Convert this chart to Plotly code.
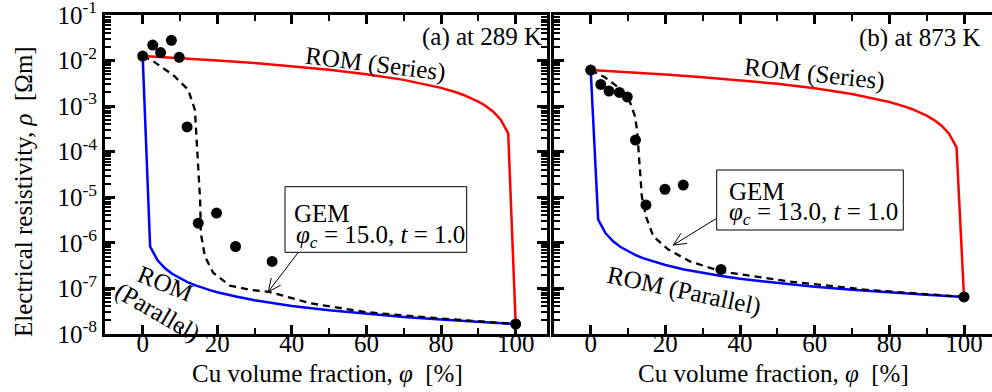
import math
import plotly.graph_objects as go

# ---------------- data ----------------
# (a) 289 K
phi_a_exp = [0, 2.7, 4.8, 7.7, 9.8, 11.9, 14.9, 19.8, 24.9, 34.7, 100]
rho_a_exp = [1.26e-2, 2.2e-2, 1.5e-2, 2.8e-2, 1.18e-2, 3.5e-4, 2.7e-6, 4.5e-6, 8.3e-7, 3.9e-7, 1.65e-8]

phi_a_ser = [0, 10, 20, 30, 40, 50, 60, 70, 80, 82, 84, 86, 88, 90, 92, 94, 96, 98, 100]
rho_a_ser = [1.26e-2, 1.134e-2, 1.008e-2, 8.82e-3, 7.56e-3, 6.3e-3, 5.04e-3, 3.78e-3, 2.52e-3,
             2.268e-3, 2.016e-3, 1.764e-3, 1.512e-3, 1.26e-3, 1.008e-3, 7.56e-4, 5.04e-4, 2.52e-4, 1.65e-8]

phi_a_par = [0, 2, 4, 6, 8, 10, 12, 14, 16, 18, 20, 25, 30, 35, 40, 50, 60, 70, 80, 90, 100]
rho_a_par = [1.26e-2, 8.25e-7, 4.12e-7, 2.75e-7, 2.06e-7, 1.65e-7, 1.375e-7, 1.18e-7, 1.03e-7, 9.17e-8,
             8.25e-8, 6.6e-8, 5.5e-8, 4.71e-8, 4.12e-8, 3.3e-8, 2.75e-8, 2.36e-8, 2.06e-8, 1.83e-8, 1.65e-8]

phi_a_gem = [0, 3, 8.2, 12.2, 14, 14.5, 15.1, 15.4, 15.6, 16.7, 18.9, 23.4, 28.8, 34.1, 45, 60, 78, 100]
rho_a_gem = [1.26e-2, 9.5e-3, 4.8e-3, 2.3e-3, 8.3e-4, 1.8e-4, 2.4e-5, 8.7e-6, 1.6e-6, 5.0e-7, 2.2e-7,
             1.15e-7, 9.3e-8, 8.3e-8, 4.7e-8, 3.0e-8, 2.24e-8, 1.65e-8]

# (b) 873 K
phi_b_exp = [0, 2.7, 4.9, 7.7, 9.8, 12.0, 14.8, 19.9, 24.8, 34.9, 100]
rho_b_exp = [6.2e-3, 3.0e-3, 2.15e-3, 2.0e-3, 1.6e-3, 1.8e-4, 6.8e-6, 1.5e-5, 1.85e-5, 2.6e-7, 6.5e-8]

phi_b_ser = [0, 10, 20, 30, 40, 50, 60, 70, 80, 82, 84, 86, 88, 90, 92, 94, 96, 98, 100]
rho_b_ser = [6.2e-3, 5.58e-3, 4.96e-3, 4.34e-3, 3.72e-3, 3.1e-3, 2.48e-3, 1.86e-3, 1.24e-3,
             1.116e-3, 9.92e-4, 8.68e-4, 7.44e-4, 6.2e-4, 4.96e-4, 3.72e-4, 2.48e-4, 1.24e-4, 6.5e-8]

phi_b_par = [0, 2, 4, 6, 8, 10, 12, 14, 16, 18, 20, 25, 30, 35, 40, 50, 60, 70, 80, 90, 100]
rho_b_par = [6.2e-3, 3.24e-6, 1.62e-6, 1.08e-6, 8.1e-7, 6.5e-7, 5.4e-7, 4.6e-7, 4.05e-7, 3.6e-7,
             3.25e-7, 2.6e-7, 2.17e-7, 1.86e-7, 1.62e-7, 1.3e-7, 1.08e-7, 9.3e-8, 8.1e-8, 7.2e-8, 6.5e-8]

phi_b_gem = [0, 3.8, 7.8, 10.3, 11.9, 12.5, 13.0, 13.5, 13.7, 14.8, 16.8, 20.8, 26.6, 35.1, 48.9, 53.4, 73.9, 92.7, 100]
rho_b_gem = [6.2e-3, 4.3e-3, 2.45e-3, 1.38e-3, 5.9e-4, 2.6e-4, 6.6e-5, 1.7e-5, 1.05e-5, 3.8e-6, 1.38e-6,
             7.1e-7, 3.9e-7, 2.34e-7, 1.58e-7, 1.41e-7, 9.3e-8, 7.2e-8, 6.5e-8]

x_ticks = [0, 20, 40, 60, 80, 100]
y_ticks = [1e-8, 1e-7, 1e-6, 1e-5, 1e-4, 1e-3, 1e-2, 1e-1]
y_ticktext = ["10<sup>-8</sup>", "10<sup>-7</sup>", "10<sup>-6</sup>", "10<sup>-5</sup>",
              "10<sup>-4</sup>", "10<sup>-3</sup>", "10<sup>-2</sup>", "10<sup>-1</sup>"]
y_minor = [m * 10.0 ** e for e in range(-8, -1) for m in range(2, 10)]

FONT = "Liberation Serif"
W, H = 992, 392


def fx(px):
    return px / W


def fy(py):
    return 1 - py / H


fig = go.Figure()

panels = [
    (phi_a_ser, rho_a_ser, phi_a_par, rho_a_par, phi_a_gem, rho_a_gem, phi_a_exp, rho_a_exp, "x", "y"),
    (phi_b_ser, rho_b_ser, phi_b_par, rho_b_par, phi_b_gem, rho_b_gem, phi_b_exp, rho_b_exp, "x2", "y2"),
]
for ps, rs, pp, rp, pg, rg, pe, re_, xa, ya in panels:
    fig.add_trace(go.Scatter(x=ps, y=rs, mode="lines", line=dict(color="#ff0000", width=2.5),
                             xaxis=xa, yaxis=ya, showlegend=False))
    fig.add_trace(go.Scatter(x=pp, y=rp, mode="lines", line=dict(color="#0000ff", width=2.5),
                             xaxis=xa, yaxis=ya, showlegend=False))
    fig.add_trace(go.Scatter(x=pg, y=rg, mode="lines", line=dict(color="black", width=2.3, dash="7px,5px"),
                             xaxis=xa, yaxis=ya, showlegend=False))
    fig.add_trace(go.Scatter(x=pe, y=re_, mode="markers", marker=dict(color="black", size=11),
                             xaxis=xa, yaxis=ya, showlegend=False, cliponaxis=False))

xcommon = dict(tickvals=x_ticks, ticks="inside", ticklen=9, tickwidth=2.5, tickcolor="black",
               showline=True, linewidth=3, linecolor="black", mirror="ticks", showgrid=False,
               zeroline=False, automargin=False, ticklabelstandoff=-15, ticklabeloverflow="allow",
               tickfont=dict(family=FONT, size=25, color="black"),
               minor=dict(dtick=10, ticks="inside", ticklen=6, tickwidth=2, tickcolor="black", showgrid=False))
ycommon = dict(type="log", range=[-8.002, -0.998], tickvals=y_ticks, ticktext=y_ticktext, ticks="inside",
               ticklen=10, tickwidth=2.5, tickcolor="black", showline=True, linewidth=3,
               linecolor="black", showgrid=False, zeroline=False, automargin=False,
               ticklabeloverflow="allow",
               tickfont=dict(family=FONT, size=25, color="black"),
               minor=dict(tickmode="array", tickvals=y_minor, ticks="inside", ticklen=6, tickwidth=1.8,
                          tickcolor="black", showgrid=False),
               domain=[fy(334), fy(15)])

fig.update_layout(
    width=W, height=H, margin=dict(l=0, r=0, t=0, b=0, pad=0, autoexpand=False),
    paper_bgcolor="white", plot_bgcolor="white",
    font=dict(family=FONT, size=25, color="black"),
    xaxis=dict(domain=[fx(105), fx(547)], range=[-10.1, 108.4], anchor="y", **xcommon),
    yaxis=dict(anchor="x", mirror="ticks", **ycommon),
    xaxis2=dict(domain=[fx(554), 1.0], range=[-9.83, 107.5], anchor="y2", **xcommon),
    yaxis2=dict(anchor="x2", mirror=False, showticklabels=False, **ycommon),
)

anns = []


def txt(text, px, py, angle=0, xanchor="center", size=25):
    anns.append(dict(text=text, x=fx(px), y=fy(py), xref="paper", yref="paper", showarrow=False,
                     xanchor=xanchor, yanchor="middle", textangle=angle,
                     font=dict(family=FONT, size=size, color="black")))


txt("Electrical resistivity, <i>ρ</i>\u00a0\u00a0[Ωm]", 23, 192, angle=-90)
txt("Cu volume fraction, <i>φ</i>\u00a0\u00a0[%]", 327.5, 373)
txt("Cu volume fraction, <i>φ</i>\u00a0\u00a0[%]", 773, 373)
txt("(a) at 289 K", 543.5, 37, xanchor="right")
txt("(b) at 873 K", 983, 38, xanchor="right")
txt("ROM (Series)", 375, 64, angle=7)
txt("ROM (Series)", 814, 74, angle=6)
txt("ROM", 165, 283, angle=22)
txt("(Parallel)", 157, 312, angle=30)
txt("ROM (Parallel)", 684, 291, angle=12)

shapes = []


def box(x0, y0, x1, y1):
    shapes.append(dict(type="rect", xref="paper", yref="paper", x0=fx(x0), x1=fx(x1), y0=fy(y1), y1=fy(y0),
                       line=dict(color="black", width=1), fillcolor="white", layer="above"))


def arrow(tx, ty, hx, hy, L=14, ang=25):
    dx, dy = tx - hx, ty - hy
    n = math.hypot(dx, dy)
    ux, uy = dx / n, dy / n
    pts = []
    for s in (1, -1):
        a = math.radians(ang * s)
        wx = ux * math.cos(a) - uy * math.sin(a)
        wy = ux * math.sin(a) + uy * math.cos(a)
        pts.append((hx + L * wx, hy + L * wy))
    path = (f"M{fx(tx)},{fy(ty)} L{fx(hx)},{fy(hy)} "
            f"M{fx(pts[0][0])},{fy(pts[0][1])} L{fx(hx)},{fy(hy)} L{fx(pts[1][0])},{fy(pts[1][1])}")
    shapes.append(dict(type="path", xref="paper", yref="paper", path=path,
                       line=dict(color="black", width=1), layer="above"))


box(285, 186.7, 466.7, 252.3)
box(716.7, 170, 903.3, 230)
arrow(298.3, 252.3, 268.3, 291.7)
arrow(716.7, 218.3, 673.3, 245)

txt("GEM", 291.7, 213, xanchor="left")
txt("<i>φ</i><sub><i>c</i></sub> = 15.0, <i>t</i> = 1.0", 294, 236, xanchor="left")
txt("GEM", 726.7, 191, xanchor="left")
txt("<i>φ</i><sub><i>c</i></sub> = 13.0, <i>t</i> = 1.0", 727, 213, xanchor="left")

fig.update_layout(annotations=anns, shapes=shapes)
fig.write_html("out.html")
